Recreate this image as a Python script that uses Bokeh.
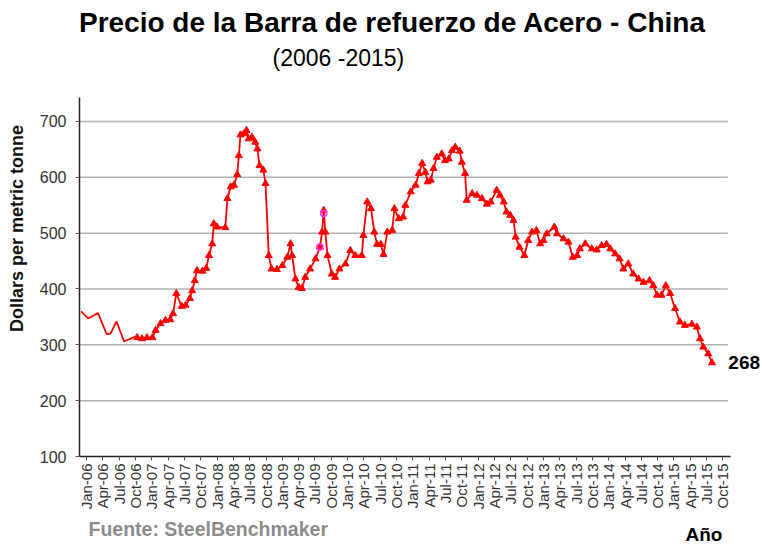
import math
from bokeh.plotting import figure
from bokeh.layouts import column
from bokeh.models import Range1d, FixedTicker, Label
from bokeh.embed import file_html
from bokeh.resources import INLINE

# months since Jan-2006 (0 = Jan-06) and price in USD per metric tonne
months = [-1.0, 0.3, 2.1, 3.7, 4.4, 5.5, 6.9, 8.1, 9.0,
          9.3, 10.2, 11.1, 12.1, 12.7, 13.6, 14.5, 15.4, 15.9, 16.5, 17.5, 18.2, 19.0, 19.4, 19.9,
          20.3, 21.3, 22.0, 22.5, 23.1, 23.4, 24.0, 25.5, 25.9, 26.5, 27.1, 27.7, 28.0, 28.3, 28.9,
          29.4, 29.8, 30.4, 31.0, 31.4, 31.8, 32.5, 32.9, 33.5, 34.0, 35.0, 36.0, 36.9, 37.5, 37.8,
          38.4, 39.0, 39.6, 40.2, 41.1, 42.1, 42.9, 43.3, 43.6, 43.9, 44.3, 45.1, 45.7, 46.5, 47.6,
          48.5, 49.4, 50.6, 50.9, 51.6, 52.3, 52.9, 53.4, 54.1, 54.6, 55.3, 56.2, 56.6, 57.4, 58.2,
          58.6, 59.6, 60.5, 61.1, 61.7, 62.3, 62.7, 63.3, 63.8, 64.4, 65.3, 65.9, 66.6, 67.2, 67.8,
          68.6, 69.0, 69.6, 69.9, 70.9, 71.8, 72.7, 73.6, 74.3, 75.4, 76.0, 76.7, 77.2, 77.9, 78.5,
          78.9, 79.6, 80.5, 81.2, 81.9, 82.7, 83.4, 84.0, 84.6, 86.0, 86.5, 87.7, 88.6, 89.4, 90.2,
          90.7, 91.7, 92.9, 93.8, 94.7, 95.6, 96.3, 97.2, 98.0, 98.7, 99.6, 100.5, 101.5, 102.4,
          103.5, 104.2, 104.9, 105.7, 106.5, 107.3, 108.2, 109.1, 110.0, 111.3, 112.2, 112.8,
          113.4, 114.3, 115.0]
prices = [360, 347, 357, 319, 320, 342, 306, 311, 315,
          313, 311, 313, 313, 326, 338, 344, 345, 356, 392, 369, 371, 383, 397, 415,
          433, 432, 437, 460, 481, 517, 511, 510, 562, 583, 586, 605, 639, 676, 678,
          684, 669, 672, 663, 651, 621, 613, 589, 460, 436, 435, 442, 457, 481, 460,
          418, 403, 401, 421, 436, 454, 475, 502, 541, 502, 460, 427, 421, 436, 445,
          469, 460, 460, 496, 556, 544, 502, 480, 480, 462, 502, 505, 544, 526, 529,
          550, 574, 586, 607, 625, 609, 592, 595, 616, 636, 642, 630, 633, 648, 654,
          647, 627, 607, 559, 571, 568, 562, 552, 556, 577, 568, 556, 538, 532, 523,
          493, 475, 460, 487, 502, 505, 481, 487, 499, 511, 499, 490, 484, 457, 460,
          472, 481, 472, 470, 478, 480, 472, 463, 454, 436, 445, 427, 418, 412,
          415, 406, 389, 389, 406, 392, 365, 341, 335, 337, 332, 311,
          296, 284, 268]
n_plain = 9  # first points are drawn as a plain line without markers

# stray highlight points around Jul-09
extra_months = [42.9, 43.6]
extra_prices = [475, 535]

y_ticks = [100, 200, 300, 400, 500, 600, 700]
grid_ticks = [200, 300, 400, 500, 600, 700]
month_names = ["Jan", "Apr", "Jul", "Oct"]
years = ["06", "07", "08", "09", "10", "11", "12", "13", "14", "15"]
tick_months = list(range(0, 118, 3))
tick_labels = [f"{month_names[i % 4]}-{years[i // 4]}" for i in range(len(tick_months))]

FONT = "Liberation Sans"

X_START, X_AXIS_END, X_FRAME_END = -1.3, 118.4, 124.28
Y_START, Y_AXIS_END, Y_FRAME_END = 100, 743, 916.7

p = figure(width=762, height=515,
           x_range=Range1d(X_START, X_FRAME_END), y_range=Range1d(Y_START, Y_FRAME_END),
           output_backend="svg", toolbar_location=None,
           min_border_left=79, min_border_right=0, min_border_top=0, min_border_bottom=59)
p.title.visible = False
p.outline_line_color = None
p.background_fill_color = "white"
p.border_fill_color = "white"
p.xgrid.visible = False
p.ygrid.visible = False

# horizontal grid lines limited to the axis extent
p.segment(x0=[X_START] * len(grid_ticks), x1=[X_AXIS_END - 0.5] * len(grid_ticks),
          y0=grid_ticks, y1=grid_ticks, line_color="#b0b0b0", line_width=1.5)

p.yaxis.bounds = (Y_START, Y_AXIS_END)
p.yaxis.ticker = FixedTicker(ticks=y_ticks)
p.yaxis.axis_label = "Dollars per metric tonne"
p.yaxis.axis_label_text_font = FONT
p.yaxis.axis_label_text_font_style = "bold"
p.yaxis.axis_label_text_font_size = "18px"
p.yaxis.axis_label_text_color = "#111111"
p.yaxis.axis_label_standoff = 10
p.yaxis.major_label_text_font = FONT
p.yaxis.major_label_text_font_size = "16px"
p.yaxis.major_label_text_color = "#333333"
p.yaxis.minor_tick_line_color = None
p.yaxis.major_tick_in = 0
p.yaxis.major_tick_out = 4
p.yaxis.major_label_standoff = 9

p.xaxis.bounds = (X_START, X_AXIS_END)
p.xaxis.ticker = FixedTicker(ticks=tick_months)
p.xaxis.major_label_overrides = dict(zip(tick_months, tick_labels))
p.xaxis.major_label_orientation = math.pi / 2
p.xaxis.major_label_text_font = FONT
p.xaxis.major_label_text_font_size = "15px"
p.xaxis.major_label_text_color = "#333333"
p.xaxis.minor_tick_line_color = None
p.xaxis.major_tick_in = 0
p.xaxis.major_tick_out = 4
p.xaxis.major_label_standoff = 3

for ax in (p.xaxis, p.yaxis):
    ax.axis_line_color = "#222222"
    ax.axis_line_width = 1.5
    ax.major_tick_line_color = "#555555"

p.line(months, prices, line_color="#ff0000", line_width=1.8)
p.scatter(months[n_plain:], prices[n_plain:], marker="triangle", size=7,
          fill_color="#ff0000", line_color="#ff0000")
p.scatter(extra_months, extra_prices, marker="circle", size=6,
          fill_color=None, line_color="#ff33ff", line_width=1.5)

p.add_layout(Label(x=56.25, y=877.3, text="Precio de la Barra de refuerzo de Acero - China",
                   text_font=FONT, text_font_style="bold", text_font_size="28px",
                   text_align="center", text_baseline="middle", text_color="black"))
p.add_layout(Label(x=46.3, y=814.6, text="(2006 -2015)",
                   text_font=FONT, text_font_size="23px",
                   text_align="center", text_baseline="middle", text_color="black"))
p.add_layout(Label(x=months[-1] + 3.0, y=prices[-1], text=str(prices[-1]),
                   text_font=FONT, text_font_style="bold", text_font_size="19px",
                   text_align="left", text_baseline="middle", text_color="black"))

# footer strip (its frame is aligned with the main frame: page x 79..762, y 515..546)
f = figure(width=762, height=31, x_range=Range1d(79, 762), y_range=Range1d(546, 515),
           output_backend="svg", toolbar_location=None, x_axis_type=None, y_axis_type=None,
           min_border_left=0, min_border_right=0, min_border_top=0, min_border_bottom=0)
f.title.visible = False
f.outline_line_color = None
f.xgrid.visible = False
f.ygrid.visible = False
f.add_layout(Label(x=88, y=528, text="Fuente: SteelBenchmaker",
                   text_font=FONT, text_font_style="bold", text_font_size="19.5px",
                   text_align="left", text_baseline="middle", text_color="#8c8c8c"))
f.add_layout(Label(x=685, y=534, text="Año",
                   text_font=FONT, text_font_style="bold", text_font_size="19px",
                   text_align="left", text_baseline="middle", text_color="black"))

layout = column(p, f, spacing=0)
open("out.html", "w").write(file_html(layout, INLINE))
